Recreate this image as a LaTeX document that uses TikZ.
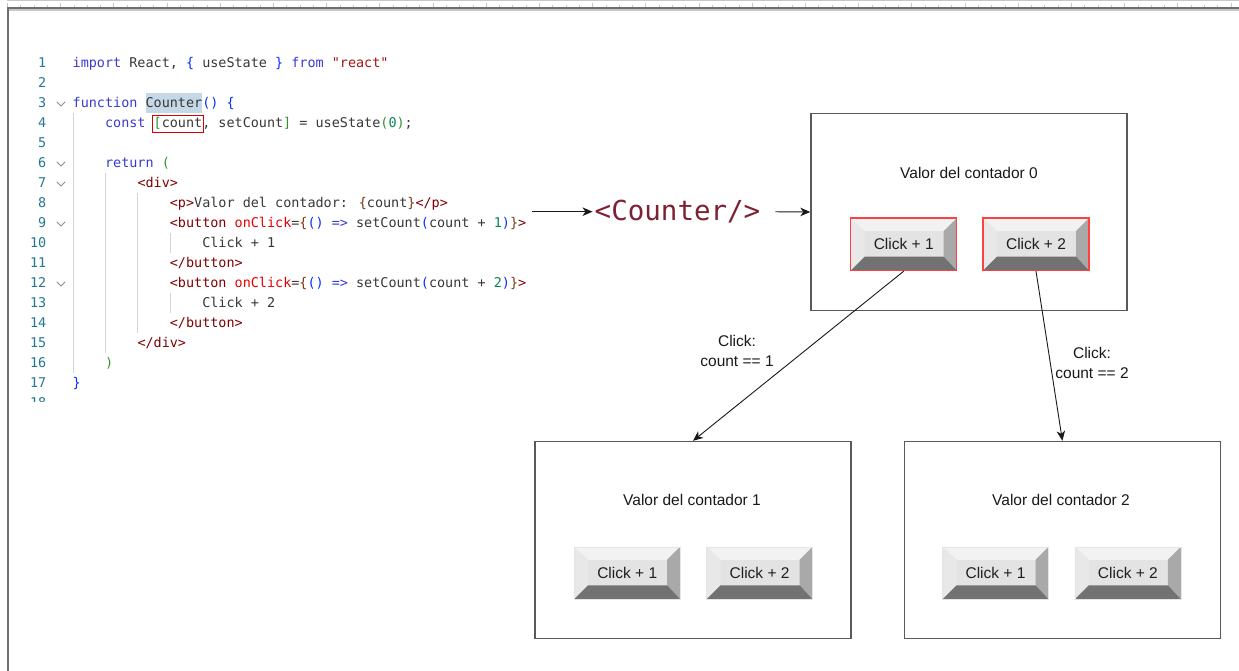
\documentclass[tikz,border=0pt]{standalone}
\usepackage{fontspec}
\setmainfont{Liberation Sans}
\newfontfamily\codefont{DejaVu Sans Mono}
\usepackage{tikz}
\usetikzlibrary{arrows.meta,positioning}

\definecolor{lnumc}{HTML}{237893}
\definecolor{identc}{HTML}{383838}
\definecolor{kwc}{HTML}{3A3AD4}
\definecolor{strc}{HTML}{A31515}
\definecolor{tagc}{HTML}{800000}
\definecolor{attc}{HTML}{E50000}
\definecolor{numc}{HTML}{098658}
\definecolor{bkac}{HTML}{0431FA}
\definecolor{bkbc}{HTML}{319331}
\definecolor{bkcc}{HTML}{7B3814}
\definecolor{hlc}{HTML}{C5D8E8}
\definecolor{guidec}{HTML}{D4D4D4}
\definecolor{foldc}{HTML}{8C8C8C}
\definecolor{framec}{HTML}{6E6E6E}
\definecolor{tickc}{HTML}{C8C8C8}
\definecolor{tagbig}{HTML}{7E2233}
\definecolor{btntop}{HTML}{F2F2F2}
\definecolor{btnleft}{HTML}{E8E8E8}
\definecolor{btnface}{HTML}{E3E3E3}
\definecolor{btnright}{HTML}{A9A9A9}
\definecolor{btnbottom}{HTML}{727272}

\newcommand{\kw}[1]{\textcolor{kwc}{#1}}
\newcommand{\strg}[1]{\textcolor{strc}{#1}}
\newcommand{\tg}[1]{\textcolor{tagc}{#1}}
\newcommand{\attr}[1]{\textcolor{attc}{#1}}
\newcommand{\nm}[1]{\textcolor{numc}{#1}}
\newcommand{\bka}[1]{\textcolor{bkac}{#1}}
\newcommand{\bkb}[1]{\textcolor{bkbc}{#1}}
\newcommand{\bkc}[1]{\textcolor{bkcc}{#1}}
\newcommand{\hilite}[1]{{\setlength{\fboxsep}{0pt}\colorbox{hlc}{\strut #1}}}

\tikzstyle{codeln}=[
	anchor=base west,
	inner sep=0pt,
	text=identc,
	font=\codefont\fontsize{13.45}{20}\selectfont
]
\tikzstyle{lnum}=[
	anchor=base east,
	inner sep=0pt,
	text=lnumc,
	font=\codefont\fontsize{13.45}{20}\selectfont
]
\tikzstyle{guide}=[
	draw=guidec,
	line width=0.8pt
]
\tikzstyle{fold}=[
	draw=foldc,
	line width=0.8pt,
	line cap=round,
	line join=round
]
\tikzstyle{screen}=[
	draw=black!65,
	line width=1.4pt,
	minimum width=316pt,
	minimum height=197pt,
	inner sep=0pt
]
\tikzstyle{screentxt}=[
	font=\fontsize{15.5}{20}\selectfont,
	text=black!90
]
\tikzstyle{btn}=[
	minimum width=106pt,
	minimum height=52.5pt,
	inner sep=0pt,
	font=\fontsize{15.5}{20}\selectfont,
	text=black!88,
	draw=black!10,
	line width=0.4pt,
	path picture={
		\fill[btnface] (path picture bounding box.south west) rectangle (path picture bounding box.north east);
		\path (path picture bounding box.north west) coordinate (p1)
		      (path picture bounding box.north east) coordinate (p2)
		      (path picture bounding box.south east) coordinate (p3)
		      (path picture bounding box.south west) coordinate (p4);
		\path ([shift={(14pt,-13pt)}]p1) coordinate (q1)
		      ([shift={(-13pt,-13pt)}]p2) coordinate (q2)
		      ([shift={(-13pt,14pt)}]p3) coordinate (q3)
		      ([shift={(14pt,14pt)}]p4) coordinate (q4);
		\fill[btntop] (p1) -- (p2) -- (q2) -- (q1) -- cycle;
		\fill[btnleft] (p1) -- (q1) -- (q4) -- (p4) -- cycle;
		\fill[btnright] (p2) -- (p3) -- (q3) -- (q2) -- cycle;
		\fill[btnbottom] (p4) -- (q4) -- (q3) -- (p3) -- cycle;
	}
]
\tikzstyle{live}=[
	btn,
	draw=red!75,
	line width=1.3pt
]
\tikzstyle{flow}=[
	-{Stealth[length=10pt,width=8.5pt,inset=3pt]},
	line width=0.9pt,
	draw=black!90
]
\tikzstyle{clicklbl}=[
	font=\fontsize{15.5}{20}\selectfont,
	text=black!90,
	align=center,
	inner sep=1pt
]

\begin{document}
\begin{tikzpicture}[x=1pt,y=-1pt]
\fill[white] (0,0) rectangle (1239,671);
\useasboundingbox (0,0) rectangle (1239,671);

\begin{scope}[xshift=7.3pt]
\draw[tickc, line width=0.5pt, xstep=13.3pt, ystep=100pt] (0,4.8) grid (1232,7);
\draw[tickc, line width=0.5pt, xstep=53.2pt, ystep=100pt] (0,3.2) grid (1232,7);
\end{scope}
\draw[framec, line width=2pt] (8.3,671) -- (8.3,8.2) -- (1239,8.2);
\draw[black!22, line width=1.3pt] (9.3,9.9) -- (1239,9.9);

\draw[guide] (73,113) -- (73,373);
\draw[guide] (105.4,173) -- (105.4,353);
\draw[guide] (137.8,193) -- (137.8,333);
\draw[guide] (170.2,233) -- (170.2,253);
\draw[guide] (170.2,293) -- (170.2,313);

\draw[fold] (57,102) -- (61,106) -- (65,102);
\draw[fold] (57,162) -- (61,166) -- (65,162);
\draw[fold] (57,182) -- (61,186) -- (65,182);
\draw[fold] (57,222) -- (61,226) -- (65,222);
\draw[fold] (57,282) -- (61,286) -- (65,282);

\node[lnum] (n1) at (46.5,67.5) {1};
\node[lnum] (n2) at (46.5,87.5) {2};
\node[lnum] (n3) at (46.5,107.5) {3};
\node[lnum] (n4) at (46.5,127.5) {4};
\node[lnum] (n5) at (46.5,147.5) {5};
\node[lnum] (n6) at (46.5,167.5) {6};
\node[lnum] (n7) at (46.5,187.5) {7};
\node[lnum] (n8) at (46.5,207.5) {8};
\node[lnum] (n9) at (46.5,227.5) {9};
\node[lnum] (n10) at (46.5,247.5) {10};
\node[lnum] (n11) at (46.5,267.5) {11};
\node[lnum] (n12) at (46.5,287.5) {12};
\node[lnum] (n13) at (46.5,307.5) {13};
\node[lnum] (n14) at (46.5,327.5) {14};
\node[lnum] (n15) at (46.5,347.5) {15};
\node[lnum] (n16) at (46.5,367.5) {16};
\node[lnum] (n17) at (46.5,387.5) {17};
\begin{scope}
\clip (0,390) rectangle (60,401);
\node[lnum] (n18) at (46.5,407.5) {18};
\end{scope}

\node[codeln] (c1) at (72.5,67.5) {\kw{import} React, \bka{\{} useState \bka{\}} \kw{from} \strg{"react"}};
\node[codeln] (c3) at (72.5,107.5) {\kw{function} \hilite{Counter}\bka{() \{}};
\node[codeln] (c4) at (104.9,127.5) {\kw{const} \bkb{[}count, setCount\bkb{]} = useState\bkb{(}\nm{0}\bkb{)};};
\node[codeln] (c6) at (104.9,167.5) {\kw{return} \bkb{(}};
\node[codeln] (c7) at (137.3,187.5) {\tg{<div>}};
\node[codeln] (c8) at (169.7,207.5) {\tg{<p>}Valor del contador: \bkc{\{}count\bkc{\}}\tg{</p>}};
\node[codeln] (c9) at (169.7,227.5) {\tg{<button} \attr{onClick}=\bkc{\{}\bka{()} \kw{=>} setCount\bka{(}count + \nm{1}\bka{)}\bkc{\}}\tg{>}};
\node[codeln] (c10) at (202.1,247.5) {Click + 1};
\node[codeln] (c11) at (169.7,267.5) {\tg{</button>}};
\node[codeln] (c12) at (169.7,287.5) {\tg{<button} \attr{onClick}=\bkc{\{}\bka{()} \kw{=>} setCount\bka{(}count + \nm{2}\bka{)}\bkc{\}}\tg{>}};
\node[codeln] (c13) at (202.1,307.5) {Click + 2};
\node[codeln] (c14) at (169.7,327.5) {\tg{</button>}};
\node[codeln] (c15) at (137.3,347.5) {\tg{</div>}};
\node[codeln] (c16) at (104.9,367.5) {\bkb{)}};
\node[codeln] (c17) at (72.5,387.5) {\bka{\}}};

\draw[red!85!black, line width=1pt] (152.5,115.5) rectangle (203.8,133);

\coordinate (out) at (532,211.7);
\node[font=\codefont\fontsize{27.5}{30}\selectfont, text=tagbig, inner sep=2pt] (tag) at (677.5,211.7) {<Counter/>};

\node[screen] (box0) at (969,212) {};
\node[screen] (box1) at (693,540) {};
\node[screen, right=52pt of box1] (box2) {};

\node[screentxt] (v0) at (969,172.5) {Valor del contador 0};
\node[screentxt] (v1) at (692,500) {Valor del contador 1};
\node[screentxt] (v2) at (1061,500) {Valor del contador 2};

\node[live] (b01) at (903.7,244.3) {Click + 1};
\node[live, right=25pt of b01] (b02) {Click + 2};
\node[btn] (b11) at (627.2,573) {Click + 1};
\node[btn, right=26pt of b11] (b12) {Click + 2};
\node[btn] (b21) at (995.5,573) {Click + 1};
\node[btn, right=26pt of b21] (b22) {Click + 2};

\draw[flow] (out) -- (tag);
\draw[flow, shorten <=13pt] (tag.east) -- (box0.west);
\draw[flow] (b01.south) -- (box1.north);
\draw[flow] (b02.south) -- (box2.north);

\node[clicklbl] (k1) at (737,350.5) {Click:\\count == 1};
\node[clicklbl] (k2) at (1092,362.5) {Click:\\count == 2};
\end{tikzpicture}
\end{document}
